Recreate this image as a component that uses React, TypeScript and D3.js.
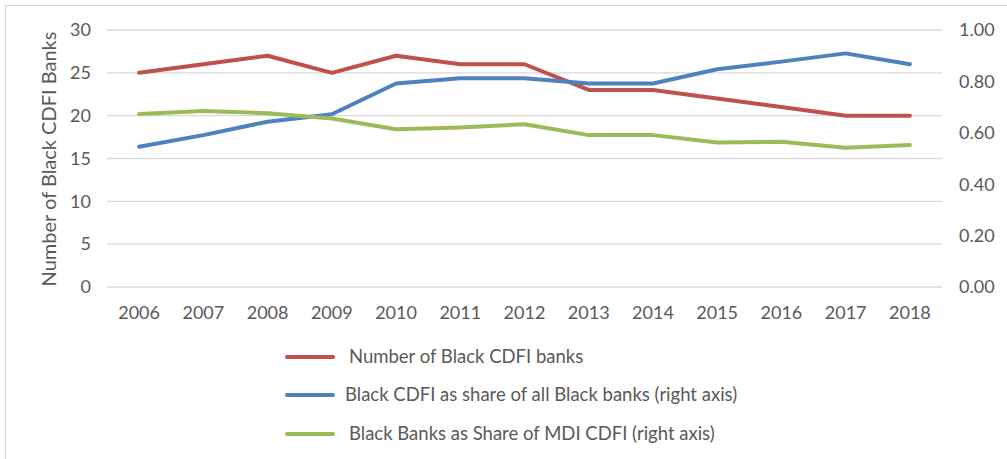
import React from "react";
import * as d3 from "d3";

const years = ["2006","2007","2008","2009","2010","2011","2012","2013","2014","2015","2016","2017","2018"];
const numBlackCDFI = [25,26,27,25,27,26,26,23,23,22,21,20,20];
const shareOfBlackBanks = [0.546,0.591,0.643,0.672,0.792,0.812,0.812,0.792,0.792,0.847,0.877,0.909,0.867];
const shareOfMDICDFI = [0.673,0.685,0.676,0.656,0.614,0.621,0.633,0.591,0.591,0.562,0.565,0.542,0.553];
const leftTicks = [0,5,10,15,20,25,30];
const rightTicks = [0,0.2,0.4,0.6,0.8,1.0];
const legendLabels = [
  "Number of Black CDFI banks",
  "Black CDFI as share of all Black banks (right axis)",
  "Black Banks as Share of MDI CDFI (right axis)",
];

const W = 1007, H = 459;
const FONT = "Lato, 'Open Sans', sans-serif";
const TXT = "#595959";

export default function App() {
  const x = d3.scaleBand<string>().domain(years).range([107, 942]);
  const yL = d3.scaleLinear().domain([0, 30]).range([287, 30]);
  const yR = d3.scaleLinear().domain([0, 1]).range([287, 30]);
  const cx = (d: string) => (x(d) ?? 0) + x.bandwidth() / 2;

  const lineL = d3.line<number>().x((_, i) => cx(years[i])).y((v) => yL(v));
  const lineR = d3.line<number>().x((_, i) => cx(years[i])).y((v) => yR(v));

  const series = [
    { d: lineL(numBlackCDFI), color: "#c0504d" },
    { d: lineR(shareOfBlackBanks), color: "#4f81bd" },
    { d: lineR(shareOfMDICDFI), color: "#9bbb59" },
  ];
  const legendY = [357, 395, 434];
  const legendTextX = [349, 345, 349];

  return (
    <svg width={W} height={H} style={{ position: "absolute", left: 0, top: 0, background: "#fff" }} fontFamily={FONT}>
      <rect x={5.5} y={5.5} width={W + 10} height={H + 10} fill="#fff" stroke="#d9d9d9" strokeWidth={1} />
      {leftTicks.map((t) => (
        <line key={"g" + t} x1={107} x2={942} y1={yL(t)} y2={yL(t)} stroke="#d9d9d9" strokeWidth={1.3} />
      ))}
      {leftTicks.map((t) => (
        <text key={"l" + t} x={91} y={yL(t)} dy="0.35em" textAnchor="end" fontSize={18} fill={TXT}>{t}</text>
      ))}
      {rightTicks.map((t) => (
        <text key={"r" + t} x={959} y={yR(t)} dy="0.35em" textAnchor="start" fontSize={18} fill={TXT}>{t.toFixed(2)}</text>
      ))}
      {years.map((yr) => (
        <text key={yr} x={cx(yr)} y={313} dy="0.35em" textAnchor="middle" fontSize={18} fill={TXT}>{yr}</text>
      ))}
      <text transform={`translate(49,159) rotate(-90)`} textAnchor="middle" dy="0.35em" fontSize={20} fill={TXT}>
        Number of Black CDFI Banks
      </text>
      {series.map((s, i) => (
        <path key={i} d={s.d ?? ""} fill="none" stroke={s.color} strokeWidth={4} strokeLinejoin="round" strokeLinecap="round" />
      ))}
      {legendLabels.map((lab, i) => (
        <g key={lab}>
          <line x1={287} x2={333} y1={legendY[i]} y2={legendY[i]} stroke={series[i].color} strokeWidth={4} strokeLinecap="round" />
          <text x={legendTextX[i]} y={legendY[i]} dy="0.35em" fontSize={18.5} fill={TXT}>{lab}</text>
        </g>
      ))}
    </svg>
  );
}
